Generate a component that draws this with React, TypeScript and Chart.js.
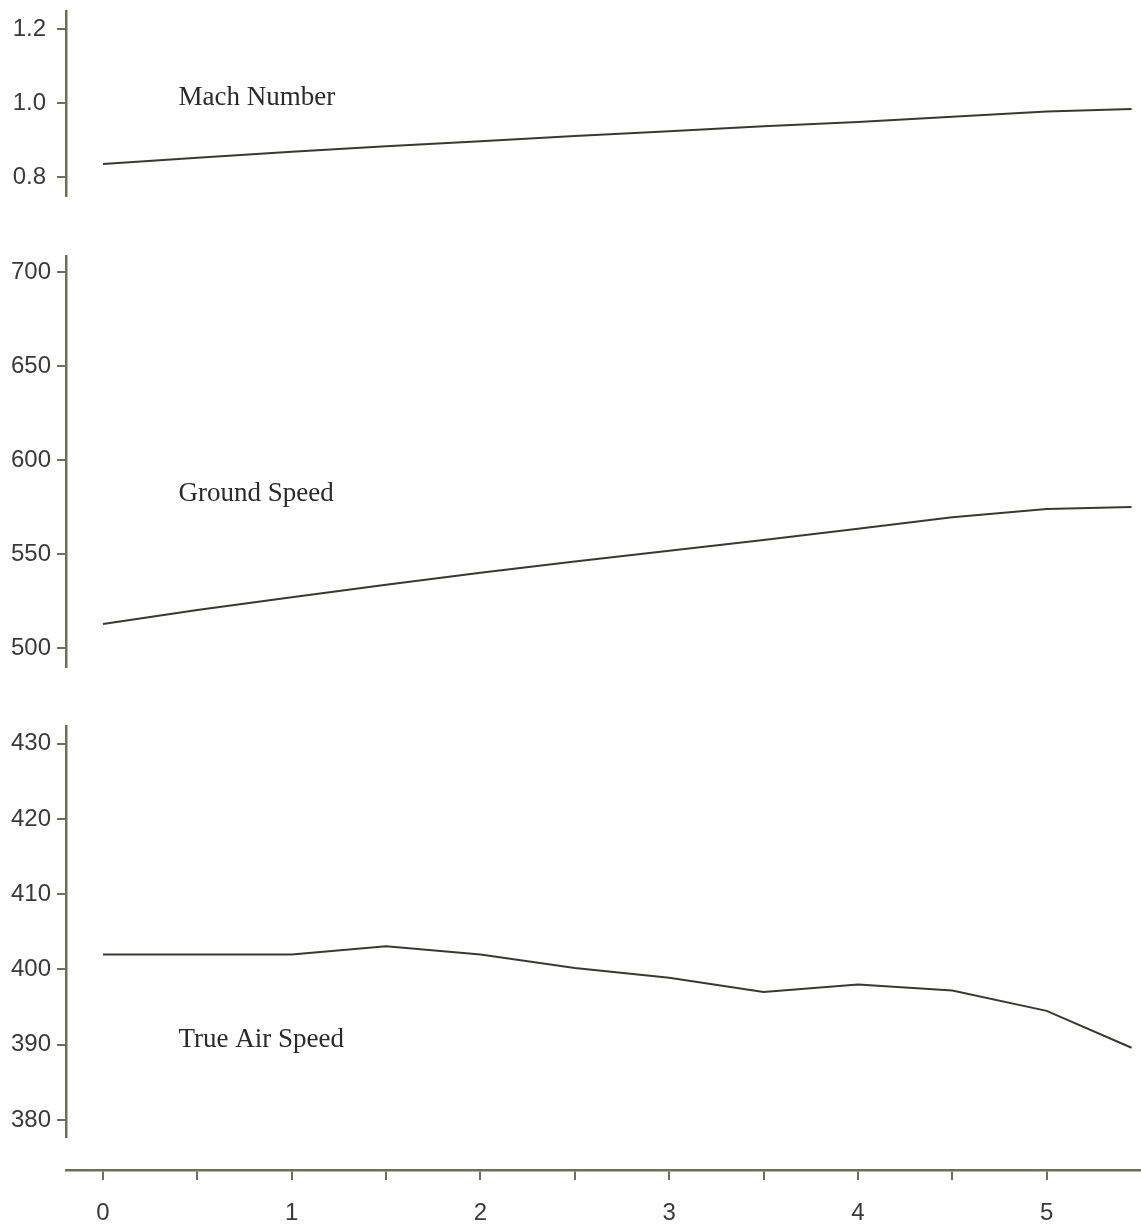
import React, { useEffect, useRef } from "react";
import { Chart, registerables } from "chart.js";

Chart.register(...registerables);

// ---- data ----
const X_VALUES = [0, 0.5, 1, 1.5, 2, 2.5, 3, 3.5, 4, 4.5, 5, 5.45];
const MACH = [0.835, 0.852, 0.868, 0.883, 0.897, 0.911, 0.924, 0.937, 0.949, 0.963, 0.977, 0.984];
const GROUND_SPEED = [512.8, 520.2, 527, 533.7, 540, 546, 551.8, 557.5, 563.5, 569.5, 574, 575];
const TRUE_AIR_SPEED = [402, 402, 402, 403.1, 402, 400.2, 398.9, 397, 398, 397.2, 394.5, 389.6];

const MACH_TICKS = [0.8, 1.0, 1.2];
const GROUND_TICKS = [500, 550, 600, 650, 700];
const TAS_TICKS = [380, 390, 400, 410, 420, 430];
const X_TICKS = [0, 0.5, 1, 1.5, 2, 2.5, 3, 3.5, 4, 4.5, 5];

const X_MIN = -0.196;
const X_MAX = 5.5;

const AXIS_COLOR = "#6f6f55";
const LINE_COLOR = "#3a3a2c";
const TEXT_COLOR = "#3a3a3a";
const TICK_FONT = { family: "'Liberation Sans', Arial, sans-serif", size: 24 };

type PanelProps = {
  top: number;
  height: number;
  values: number[];
  yMin: number;
  yMax: number;
  ticks: number[];
  fmt: (v: number) => string;
  label: string;
  labelX: number;
  labelY: number;
  tickPad: number;
};

function Panel(p: PanelProps) {
  const ref = useRef<HTMLCanvasElement | null>(null);
  useEffect(() => {
    if (!ref.current) return;
    const labelPlugin = {
      id: "panelLabel",
      afterDraw(chart: any) {
        const ctx = chart.ctx;
        const xs = chart.scales.x;
        const ys = chart.scales.y;
        ctx.save();
        ctx.font = "27px 'Liberation Serif', 'Times New Roman', serif";
        ctx.fillStyle = "#2a2a2a";
        ctx.textBaseline = "middle";
        ctx.textAlign = "left";
        ctx.fillText(p.label, xs.getPixelForValue(p.labelX), ys.getPixelForValue(p.labelY));
        ctx.restore();
      },
    };
    const chart = new Chart(ref.current, {
      type: "line",
      data: {
        datasets: [
          {
            data: X_VALUES.map((x, i) => ({ x, y: p.values[i] })),
            borderColor: LINE_COLOR,
            borderWidth: 2,
            pointRadius: 0,
            tension: 0,
            fill: false,
          },
        ],
      },
      options: {
        animation: false,
        responsive: false,
        maintainAspectRatio: false,
        layout: { padding: 0 },
        plugins: { legend: { display: false }, tooltip: { enabled: false } },
        scales: {
          x: { type: "linear", min: X_MIN, max: X_MAX, display: false },
          y: {
            type: "linear",
            min: p.yMin,
            max: p.yMax,
            afterBuildTicks: (s: any) => {
              s.ticks = p.ticks.map((v) => ({ value: v }));
            },
            afterFit: (s: any) => {
              s.width = 66;
              s.paddingTop = 0;
              s.paddingBottom = 0;
            },
            grid: {
              drawOnChartArea: false,
              drawTicks: true,
              tickLength: 9,
              color: AXIS_COLOR,
              lineWidth: 2,
            },
            border: { display: true, color: AXIS_COLOR, width: 2.5 },
            ticks: {
              callback: (v: any) => p.fmt(Number(v)),
              color: TEXT_COLOR,
              font: TICK_FONT,
              padding: p.tickPad,
              autoSkip: false,
            },
          },
        },
      },
      plugins: [labelPlugin],
    } as any);
    return () => chart.destroy();
  }, []);
  return (
    <canvas
      ref={ref}
      width={1141}
      height={p.height}
      style={{ position: "absolute", left: 0, top: p.top, width: 1141, height: p.height }}
    />
  );
}

function XAxis() {
  const ref = useRef<HTMLCanvasElement | null>(null);
  useEffect(() => {
    if (!ref.current) return;
    const chart = new Chart(ref.current, {
      type: "line",
      data: { datasets: [{ data: [], pointRadius: 0 }] },
      options: {
        animation: false,
        responsive: false,
        maintainAspectRatio: false,
        layout: { padding: { left: 66, right: 0, top: 0, bottom: 0 } },
        plugins: { legend: { display: false }, tooltip: { enabled: false } },
        scales: {
          y: { display: false, min: 0, max: 1 },
          x: {
            type: "linear",
            position: "bottom",
            min: X_MIN,
            max: X_MAX,
            afterBuildTicks: (s: any) => {
              s.ticks = X_TICKS.map((v) => ({ value: v }));
            },
            afterFit: (s: any) => {
              s.height = 59;
              s.paddingLeft = 0;
              s.paddingRight = 0;
            },
            grid: {
              drawOnChartArea: false,
              drawTicks: true,
              tickLength: 10,
              color: AXIS_COLOR,
              lineWidth: 2,
            },
            border: { display: true, color: AXIS_COLOR, width: 2.5 },
            ticks: {
              callback: (v: any) => (Number.isInteger(Number(v)) ? String(v) : ""),
              color: TEXT_COLOR,
              font: TICK_FONT,
              padding: 19,
              autoSkip: false,
              maxRotation: 0,
              minRotation: 0,
            },
          },
        },
      },
    } as any);
    return () => chart.destroy();
  }, []);
  return (
    <canvas
      ref={ref}
      width={1141}
      height={79}
      style={{ position: "absolute", left: 0, top: 1150, width: 1141, height: 79 }}
    />
  );
}

export default function App() {
  return (
    <div style={{ position: "absolute", left: 0, top: 0, width: 1141, height: 1229, background: "#fff", overflow: "hidden" }}>
      <Panel
        top={10}
        height={187}
        values={MACH}
        yMin={0.746}
        yMax={1.2514}
        ticks={MACH_TICKS}
        fmt={(v) => v.toFixed(1)}
        label="Mach Number"
        labelX={0.4}
        labelY={1.013}
        tickPad={11}
      />
      <Panel
        top={255}
        height={413}
        values={GROUND_SPEED}
        yMin={489.4}
        yMax={709}
        ticks={GROUND_TICKS}
        fmt={(v) => String(v)}
        label="Ground Speed"
        labelX={0.4}
        labelY={582}
        tickPad={6}
      />
      <Panel
        top={725}
        height={413}
        values={TRUE_AIR_SPEED}
        yMin={377.6}
        yMax={432.5}
        ticks={TAS_TICKS}
        fmt={(v) => String(v)}
        label="True Air Speed"
        labelX={0.4}
        labelY={390.7}
        tickPad={6}
      />
      <XAxis />
    </div>
  );
}
